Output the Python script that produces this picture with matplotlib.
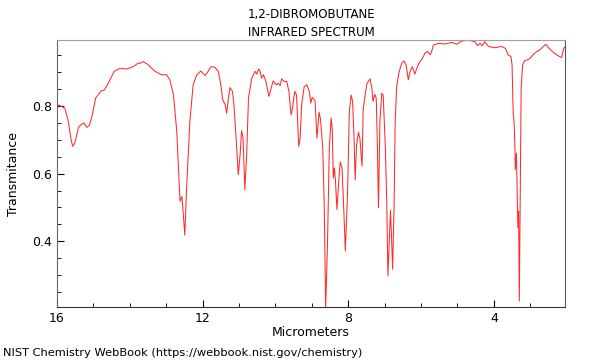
import numpy as np
import matplotlib
matplotlib.use("Agg")
from matplotlib import pyplot as plt
from matplotlib.ticker import MultipleLocator

# wavelength (micrometers) and transmittance
wavelength = [
    15.98, 15.87, 15.78, 15.69, 15.62, 15.57, 15.51, 15.41, 15.34, 15.26, 15.18, 15.11,
    15.03, 14.94, 14.87, 14.79, 14.70, 14.59, 14.43, 14.27, 14.09, 13.90, 13.78, 13.72,
    13.63, 13.49, 13.31, 13.12, 12.99, 12.90, 12.80, 12.71, 12.65, 12.62, 12.57, 12.53,
    12.49, 12.44, 12.35, 12.26, 12.16, 12.05, 11.93, 11.84, 11.77, 11.66, 11.57, 11.50,
    11.45, 11.38, 11.34, 11.29, 11.25, 11.18, 11.14, 11.08, 11.02, 10.97, 10.93, 10.89,
    10.84, 10.79, 10.74, 10.65, 10.56, 10.51, 10.46, 10.42, 10.38, 10.33, 10.26, 10.18,
    10.13, 10.06, 9.98, 9.92, 9.87, 9.83, 9.76, 9.69, 9.63, 9.57, 9.53, 9.47, 9.42,
    9.36, 9.32, 9.28, 9.21, 9.14, 9.07, 9.03, 8.99, 8.91, 8.86, 8.80, 8.76, 8.70, 8.66,
    8.62, 8.57, 8.52, 8.47, 8.44, 8.41, 8.38, 8.35, 8.31, 8.26, 8.22, 8.17, 8.12, 8.08,
    8.02, 7.97, 7.92, 7.88, 7.84, 7.81, 7.77, 7.72, 7.68, 7.62, 7.59, 7.54, 7.49, 7.45,
    7.40, 7.35, 7.32, 7.27, 7.23, 7.20, 7.17, 7.13, 7.08, 7.04, 6.98, 6.94, 6.91, 6.87,
    6.84, 6.81, 6.78, 6.74, 6.71, 6.67, 6.60, 6.53, 6.47, 6.41, 6.35, 6.30, 6.24, 6.17,
    6.10, 6.03, 5.96, 5.89, 5.82, 5.75, 5.70, 5.66, 5.52, 5.34, 5.16, 5.02, 4.88, 4.70,
    4.52, 4.45, 4.38, 4.32, 4.25, 4.15, 3.97, 3.79, 3.68, 3.61, 3.53, 3.50, 3.47, 3.44,
    3.42, 3.41, 3.38, 3.35, 3.34, 3.32, 3.30, 3.27, 3.25, 3.21, 3.16, 3.02, 2.88, 2.75,
    2.57, 2.48, 2.34, 2.20, 2.14, 2.08, 2.05,
]
transmittance = [
    0.804, 0.799, 0.792, 0.755, 0.705, 0.681, 0.691, 0.737, 0.745, 0.750, 0.737, 0.743,
    0.774, 0.824, 0.833, 0.845, 0.848, 0.868, 0.903, 0.912, 0.910, 0.917, 0.927, 0.927,
    0.932, 0.922, 0.903, 0.893, 0.893, 0.878, 0.833, 0.725, 0.587, 0.518, 0.533, 0.479,
    0.418, 0.558, 0.755, 0.863, 0.893, 0.904, 0.891, 0.904, 0.917, 0.915, 0.903, 0.863,
    0.819, 0.804, 0.779, 0.824, 0.855, 0.844, 0.804, 0.705, 0.597, 0.656, 0.727, 0.705,
    0.553, 0.656, 0.824, 0.883, 0.903, 0.895, 0.910, 0.903, 0.883, 0.893, 0.873, 0.829,
    0.848, 0.875, 0.863, 0.868, 0.861, 0.881, 0.873, 0.873, 0.844, 0.774, 0.794, 0.844,
    0.833, 0.681, 0.705, 0.804, 0.858, 0.863, 0.844, 0.809, 0.826, 0.816, 0.705, 0.782,
    0.760, 0.676, 0.509, 0.203, 0.390, 0.676, 0.765, 0.735, 0.587, 0.617, 0.578, 0.494,
    0.578, 0.635, 0.617, 0.489, 0.371, 0.538, 0.784, 0.833, 0.814, 0.705, 0.582, 0.686,
    0.723, 0.705, 0.622, 0.789, 0.829, 0.865, 0.873, 0.881, 0.853, 0.814, 0.835, 0.824,
    0.686, 0.499, 0.755, 0.838, 0.833, 0.676, 0.509, 0.297, 0.410, 0.491, 0.410, 0.317,
    0.509, 0.755, 0.858, 0.903, 0.927, 0.934, 0.922, 0.878, 0.903, 0.917, 0.895, 0.917,
    0.932, 0.942, 0.957, 0.962, 0.952, 0.965, 0.981, 0.986, 0.984, 0.989, 0.983, 0.993,
    0.995, 0.991, 0.979, 0.986, 0.979, 0.991, 0.977, 0.973, 0.977, 0.971, 0.952, 0.947,
    0.922, 0.784, 0.745, 0.666, 0.612, 0.661, 0.489, 0.440, 0.489, 0.223, 0.607, 0.853,
    0.922, 0.934, 0.940, 0.957, 0.966, 0.983, 0.971, 0.957, 0.947, 0.944, 0.971, 0.975,
]

title = "1,2-DIBROMOBUTANE\nINFRARED SPECTRUM"
footer = "NIST Chemistry WebBook (https://webbook.nist.gov/chemistry)"

fig = plt.figure(figsize=(6, 3.6), dpi=100)
ax = fig.add_axes([0.095, 0.147, 0.847, 0.742])

ax.plot(wavelength, transmittance, color="#ff2a2a", lw=0.75)

ax.set_xlim(16, 2.04)
ax.set_ylim(0.205, 0.996)

ax.xaxis.set_major_locator(MultipleLocator(4))
ax.xaxis.set_minor_locator(MultipleLocator(1))
ax.yaxis.set_major_locator(MultipleLocator(0.2))
ax.yaxis.set_minor_locator(MultipleLocator(0.05))
ax.tick_params(which="both", direction="in", top=False, right=False, labelsize=9)
ax.tick_params(which="major", length=5)
ax.tick_params(which="minor", length=3)

ax.spines["top"].set_color("#a0a0a0")
ax.spines["right"].set_color("#555555")
ax.spines["left"].set_color("#666666")
ax.spines["bottom"].set_color("#333333")

ax.set_title(title, fontsize=8.5, linespacing=1.5, pad=3)
ax.set_xlabel("Micrometers", fontsize=9, labelpad=1)
ax.set_ylabel("Transmitance", fontsize=9)
ax.yaxis.set_label_coords(-0.072, 0.5)

fig.text(0.005, 0.005, footer, fontsize=8.2, ha="left", va="bottom")

fig.savefig("out.png", dpi=100)
